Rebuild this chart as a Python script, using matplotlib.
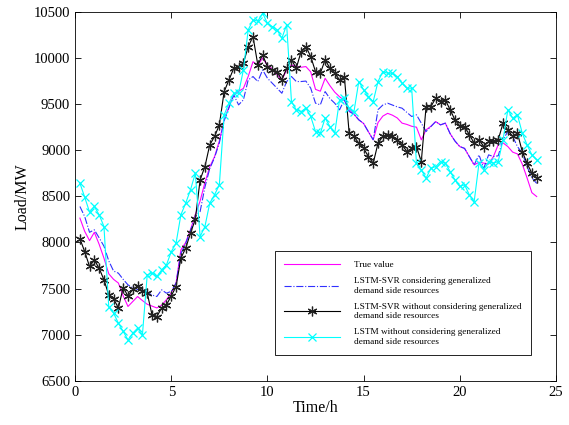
import numpy as np
import matplotlib
matplotlib.use("Agg")
import matplotlib.pyplot as plt

plt.rcParams['font.family'] = ['Liberation Serif', 'DejaVu Serif']
plt.rcParams['mathtext.fontset'] = 'stix'

# 96 points, 15 min resolution
hours = np.arange(1, 97) * 0.25

true_load = [
    8264, 8120, 8020, 8110, 7980, 7830, 7660, 7600, 7560, 7420,
    7306, 7360, 7414, 7370, 7330, 7310, 7290, 7320, 7380, 7454,
    7562, 7920, 8000, 8140, 8300, 8450, 8650, 8820, 8930, 9100,
    9330, 9470, 9600, 9640, 9670, 9800, 9960, 9920, 10000, 9920,
    9880, 9820, 9763, 9871, 9926, 9907, 9900, 9907, 9850, 9660,
    9640, 9780, 9700, 9630, 9580, 9540, 9440, 9390, 9330, 9290,
    9200, 9113, 9300, 9370, 9400, 9380, 9350, 9294, 9280, 9260,
    9250, 9113, 9221, 9260, 9311, 9275, 9294, 9180, 9100, 9040,
    9020, 8930, 8841, 8870, 8860, 8850, 8931, 9060, 9080, 9040,
    8980, 8960, 8850, 8700, 8540, 8498]

svr_gdsr = [
    8390, 8280, 8110, 8137, 8050, 7960, 7800, 7690, 7667, 7600,
    7540, 7510, 7490, 7486, 7460, 7430, 7414, 7486, 7450, 7470,
    7560, 7880, 7990, 8130, 8280, 8335, 8600, 8800, 8920, 9080,
    9320, 9460, 9600, 9492, 9546, 9763, 9799, 9745, 9871, 9781,
    9727, 9673, 9618, 9745, 9799, 9745, 9745, 9750, 9673, 9510,
    9492, 9636, 9560, 9510, 9438, 9550, 9420, 9390, 9330, 9290,
    9200, 9113, 9440, 9490, 9510, 9490, 9470, 9456, 9410, 9366,
    9384, 9294, 9203, 9257, 9311, 9275, 9294, 9180, 9100, 9040,
    9020, 8930, 8841, 8950, 8805, 8950, 8931, 8940, 9113, 9203,
    9149, 9040, 8968, 8823, 8700, 8640]

svr_no_gdsr = [
    8040, 7900, 7740, 7810, 7720, 7595, 7430, 7390, 7290, 7510,
    7420, 7490, 7530, 7470, 7450, 7215, 7197, 7290, 7324, 7420,
    7522, 7830, 7938, 8101, 8250, 8680, 8823, 9058, 9149, 9275,
    9636, 9763, 9889, 9900, 9944, 10124, 10232, 9926, 10034, 9907,
    9871, 9853, 9763, 9889, 9980, 9890, 10070, 10124, 10016, 9853,
    9835, 9980, 9889, 9835, 9763, 9799, 9185, 9149, 9077, 9022,
    8931, 8859, 9077, 9149, 9167, 9149, 9113, 9058, 8986, 9022,
    9040, 8877, 9474, 9474, 9564, 9528, 9546, 9438, 9330, 9264,
    9257, 9167, 9077, 9113, 9040, 9095, 9095, 9113, 9294, 9221,
    9149, 9185, 8986, 8859, 8751, 8697]

lstm_no_gdsr = [
    8643, 8490, 8330, 8390, 8300, 8173, 7300, 7234, 7125, 7035,
    6944, 7017, 7071, 6999, 7649, 7667, 7631, 7703, 7757, 7900,
    7993, 8300, 8426, 8571, 8751, 8064, 8173, 8426, 8517, 8625,
    9384, 9510, 9618, 9618, 9871, 10305, 10413, 10400, 10486, 10377,
    10341, 10305, 10215, 10359, 9528, 9438, 9420, 9456, 9366, 9203,
    9185, 9348, 9257, 9185, 9546, 9564, 9456, 9420, 9745, 9655,
    9582, 9528, 9745, 9853, 9835, 9835, 9799, 9727, 9673, 9673,
    8859, 8787, 8697, 8805, 8823, 8877, 8859, 8769, 8679, 8607,
    8625, 8516, 8444, 8859, 8787, 8877, 8859, 8877, 9113, 9438,
    9348, 9384, 9185, 9058, 8950, 8896]

labels = [
    'True value',
    'LSTM-SVR considering generalized\ndemand side resources',
    'LSTM-SVR without considering generalized\ndemand side resources',
    'LSTM without considering generalized\ndemand side resources',
]

fig = plt.figure(figsize=(5.69, 4.25), dpi=100)
ax = fig.add_axes([0.132, 0.104, 0.845, 0.868])

ax.plot(hours, true_load, color='#ff00ff', lw=0.8, label=labels[0])
ax.plot(hours, svr_gdsr, color='#3030ff', lw=0.8, ls='-.', label=labels[1])
ax.plot(hours, svr_no_gdsr, color='black', lw=0.8, marker=(6, 2, 0),
        ms=7, mew=0.9, mec='#222222', label=labels[2])
ax.plot(hours, lstm_no_gdsr, color='#00ffff', lw=0.8, marker='x',
        ms=5.5, mew=0.9, label=labels[3])

ax.set_xlim(0, 25)
ax.set_ylim(6500, 10500)
ax.set_xticks(np.arange(0, 26, 5))
ax.set_yticks(np.arange(6500, 10501, 500))
ax.tick_params(direction='in', top=True, right=True, labelsize=10.5,
               length=4, width=0.6)
for s in ax.spines.values():
    s.set_linewidth(0.6)
ax.set_xlabel('Time/h', fontsize=11.5, labelpad=1)
ax.set_ylabel('Load/MW', fontsize=11.5, labelpad=2)

leg = ax.legend(loc='lower left', bbox_to_anchor=(0.416, 0.07), fontsize=6.7,
                fancybox=False, edgecolor='black', framealpha=1,
                handlelength=6.0, borderpad=1.0, labelspacing=0.9,
                handletextpad=1.5, borderaxespad=0)
leg.get_frame().set_linewidth(0.6)

fig.savefig('out.png', dpi=100)
